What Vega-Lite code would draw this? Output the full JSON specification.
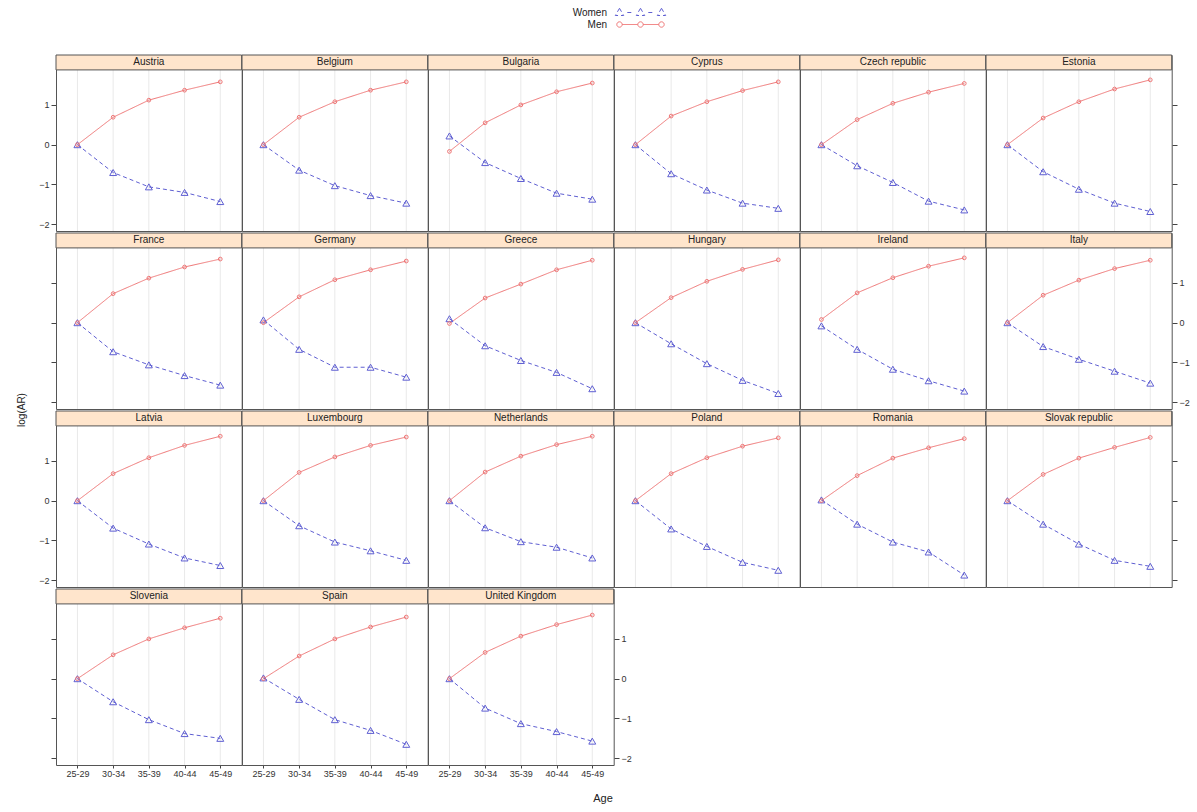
{
"$schema": "https://vega.github.io/schema/vega-lite/v6.json",
"padding": {"left": 16, "top": 6, "right": 5, "bottom": 5},
"background": "white",
"title": {"text": "Age", "orient": "bottom", "anchor": "middle", "fontSize": 11, "fontWeight": "normal", "color": "#222", "offset": 15, "font": "Liberation Sans"},
"data": {"values": [
{"country":"Austria","sex":"Men","age":"25-29","value":0},{"country":"Austria","sex":"Men","age":"30-34","value":0.69},{"country":"Austria","sex":"Men","age":"35-39","value":1.12},{"country":"Austria","sex":"Men","age":"40-44","value":1.37},{"country":"Austria","sex":"Men","age":"45-49","value":1.58},
{"country":"Austria","sex":"Women","age":"25-29","value":0},{"country":"Austria","sex":"Women","age":"30-34","value":-0.70},{"country":"Austria","sex":"Women","age":"35-39","value":-1.06},{"country":"Austria","sex":"Women","age":"40-44","value":-1.20},{"country":"Austria","sex":"Women","age":"45-49","value":-1.43},
{"country":"Belgium","sex":"Men","age":"25-29","value":0},{"country":"Belgium","sex":"Men","age":"30-34","value":0.69},{"country":"Belgium","sex":"Men","age":"35-39","value":1.08},{"country":"Belgium","sex":"Men","age":"40-44","value":1.37},{"country":"Belgium","sex":"Men","age":"45-49","value":1.58},
{"country":"Belgium","sex":"Women","age":"25-29","value":0},{"country":"Belgium","sex":"Women","age":"30-34","value":-0.64},{"country":"Belgium","sex":"Women","age":"35-39","value":-1.03},{"country":"Belgium","sex":"Women","age":"40-44","value":-1.28},{"country":"Belgium","sex":"Women","age":"45-49","value":-1.47},
{"country":"Bulgaria","sex":"Men","age":"25-29","value":-0.17},{"country":"Bulgaria","sex":"Men","age":"30-34","value":0.55},{"country":"Bulgaria","sex":"Men","age":"35-39","value":1.0},{"country":"Bulgaria","sex":"Men","age":"40-44","value":1.33},{"country":"Bulgaria","sex":"Men","age":"45-49","value":1.55},
{"country":"Bulgaria","sex":"Women","age":"25-29","value":0.22},{"country":"Bulgaria","sex":"Women","age":"30-34","value":-0.45},{"country":"Bulgaria","sex":"Women","age":"35-39","value":-0.85},{"country":"Bulgaria","sex":"Women","age":"40-44","value":-1.22},{"country":"Bulgaria","sex":"Women","age":"45-49","value":-1.37},
{"country":"Cyprus","sex":"Men","age":"25-29","value":0},{"country":"Cyprus","sex":"Men","age":"30-34","value":0.72},{"country":"Cyprus","sex":"Men","age":"35-39","value":1.08},{"country":"Cyprus","sex":"Men","age":"40-44","value":1.36},{"country":"Cyprus","sex":"Men","age":"45-49","value":1.58},
{"country":"Cyprus","sex":"Women","age":"25-29","value":0},{"country":"Cyprus","sex":"Women","age":"30-34","value":-0.73},{"country":"Cyprus","sex":"Women","age":"35-39","value":-1.14},{"country":"Cyprus","sex":"Women","age":"40-44","value":-1.47},{"country":"Cyprus","sex":"Women","age":"45-49","value":-1.60},
{"country":"Czech republic","sex":"Men","age":"25-29","value":0},{"country":"Czech republic","sex":"Men","age":"30-34","value":0.63},{"country":"Czech republic","sex":"Men","age":"35-39","value":1.04},{"country":"Czech republic","sex":"Men","age":"40-44","value":1.32},{"country":"Czech republic","sex":"Men","age":"45-49","value":1.54},
{"country":"Czech republic","sex":"Women","age":"25-29","value":0},{"country":"Czech republic","sex":"Women","age":"30-34","value":-0.53},{"country":"Czech republic","sex":"Women","age":"35-39","value":-0.95},{"country":"Czech republic","sex":"Women","age":"40-44","value":-1.42},{"country":"Czech republic","sex":"Women","age":"45-49","value":-1.64},
{"country":"Estonia","sex":"Men","age":"25-29","value":0},{"country":"Estonia","sex":"Men","age":"30-34","value":0.67},{"country":"Estonia","sex":"Men","age":"35-39","value":1.08},{"country":"Estonia","sex":"Men","age":"40-44","value":1.40},{"country":"Estonia","sex":"Men","age":"45-49","value":1.63},
{"country":"Estonia","sex":"Women","age":"25-29","value":0},{"country":"Estonia","sex":"Women","age":"30-34","value":-0.68},{"country":"Estonia","sex":"Women","age":"35-39","value":-1.12},{"country":"Estonia","sex":"Women","age":"40-44","value":-1.47},{"country":"Estonia","sex":"Women","age":"45-49","value":-1.68},
{"country":"France","sex":"Men","age":"25-29","value":0},{"country":"France","sex":"Men","age":"30-34","value":0.73},{"country":"France","sex":"Men","age":"35-39","value":1.12},{"country":"France","sex":"Men","age":"40-44","value":1.40},{"country":"France","sex":"Men","age":"45-49","value":1.60},
{"country":"France","sex":"Women","age":"25-29","value":0},{"country":"France","sex":"Women","age":"30-34","value":-0.73},{"country":"France","sex":"Women","age":"35-39","value":-1.06},{"country":"France","sex":"Women","age":"40-44","value":-1.33},{"country":"France","sex":"Women","age":"45-49","value":-1.57},
{"country":"Germany","sex":"Men","age":"25-29","value":0},{"country":"Germany","sex":"Men","age":"30-34","value":0.65},{"country":"Germany","sex":"Men","age":"35-39","value":1.08},{"country":"Germany","sex":"Men","age":"40-44","value":1.33},{"country":"Germany","sex":"Men","age":"45-49","value":1.55},
{"country":"Germany","sex":"Women","age":"25-29","value":0.07},{"country":"Germany","sex":"Women","age":"30-34","value":-0.67},{"country":"Germany","sex":"Women","age":"35-39","value":-1.12},{"country":"Germany","sex":"Women","age":"40-44","value":-1.12},{"country":"Germany","sex":"Women","age":"45-49","value":-1.37},
{"country":"Greece","sex":"Men","age":"25-29","value":-0.02},{"country":"Greece","sex":"Men","age":"30-34","value":0.62},{"country":"Greece","sex":"Men","age":"35-39","value":0.97},{"country":"Greece","sex":"Men","age":"40-44","value":1.33},{"country":"Greece","sex":"Men","age":"45-49","value":1.57},
{"country":"Greece","sex":"Women","age":"25-29","value":0.10},{"country":"Greece","sex":"Women","age":"30-34","value":-0.58},{"country":"Greece","sex":"Women","age":"35-39","value":-0.95},{"country":"Greece","sex":"Women","age":"40-44","value":-1.25},{"country":"Greece","sex":"Women","age":"45-49","value":-1.66},
{"country":"Hungary","sex":"Men","age":"25-29","value":0},{"country":"Hungary","sex":"Men","age":"30-34","value":0.63},{"country":"Hungary","sex":"Men","age":"35-39","value":1.04},{"country":"Hungary","sex":"Men","age":"40-44","value":1.34},{"country":"Hungary","sex":"Men","age":"45-49","value":1.58},
{"country":"Hungary","sex":"Women","age":"25-29","value":0},{"country":"Hungary","sex":"Women","age":"30-34","value":-0.53},{"country":"Hungary","sex":"Women","age":"35-39","value":-1.03},{"country":"Hungary","sex":"Women","age":"40-44","value":-1.45},{"country":"Hungary","sex":"Women","age":"45-49","value":-1.78},
{"country":"Ireland","sex":"Men","age":"25-29","value":0.08},{"country":"Ireland","sex":"Men","age":"30-34","value":0.75},{"country":"Ireland","sex":"Men","age":"35-39","value":1.13},{"country":"Ireland","sex":"Men","age":"40-44","value":1.42},{"country":"Ireland","sex":"Men","age":"45-49","value":1.63},
{"country":"Ireland","sex":"Women","age":"25-29","value":-0.08},{"country":"Ireland","sex":"Women","age":"30-34","value":-0.67},{"country":"Ireland","sex":"Women","age":"35-39","value":-1.17},{"country":"Ireland","sex":"Women","age":"40-44","value":-1.46},{"country":"Ireland","sex":"Women","age":"45-49","value":-1.72},
{"country":"Italy","sex":"Men","age":"25-29","value":0},{"country":"Italy","sex":"Men","age":"30-34","value":0.69},{"country":"Italy","sex":"Men","age":"35-39","value":1.07},{"country":"Italy","sex":"Men","age":"40-44","value":1.36},{"country":"Italy","sex":"Men","age":"45-49","value":1.57},
{"country":"Italy","sex":"Women","age":"25-29","value":0},{"country":"Italy","sex":"Women","age":"30-34","value":-0.60},{"country":"Italy","sex":"Women","age":"35-39","value":-0.92},{"country":"Italy","sex":"Women","age":"40-44","value":-1.22},{"country":"Italy","sex":"Women","age":"45-49","value":-1.52},
{"country":"Latvia","sex":"Men","age":"25-29","value":0},{"country":"Latvia","sex":"Men","age":"30-34","value":0.68},{"country":"Latvia","sex":"Men","age":"35-39","value":1.08},{"country":"Latvia","sex":"Men","age":"40-44","value":1.39},{"country":"Latvia","sex":"Men","age":"45-49","value":1.62},
{"country":"Latvia","sex":"Women","age":"25-29","value":0},{"country":"Latvia","sex":"Women","age":"30-34","value":-0.69},{"country":"Latvia","sex":"Women","age":"35-39","value":-1.09},{"country":"Latvia","sex":"Women","age":"40-44","value":-1.44},{"country":"Latvia","sex":"Women","age":"45-49","value":-1.63},
{"country":"Luxembourg","sex":"Men","age":"25-29","value":0},{"country":"Luxembourg","sex":"Men","age":"30-34","value":0.71},{"country":"Luxembourg","sex":"Men","age":"35-39","value":1.10},{"country":"Luxembourg","sex":"Men","age":"40-44","value":1.39},{"country":"Luxembourg","sex":"Men","age":"45-49","value":1.60},
{"country":"Luxembourg","sex":"Women","age":"25-29","value":0},{"country":"Luxembourg","sex":"Women","age":"30-34","value":-0.63},{"country":"Luxembourg","sex":"Women","age":"35-39","value":-1.04},{"country":"Luxembourg","sex":"Women","age":"40-44","value":-1.26},{"country":"Luxembourg","sex":"Women","age":"45-49","value":-1.50},
{"country":"Netherlands","sex":"Men","age":"25-29","value":0},{"country":"Netherlands","sex":"Men","age":"30-34","value":0.72},{"country":"Netherlands","sex":"Men","age":"35-39","value":1.12},{"country":"Netherlands","sex":"Men","age":"40-44","value":1.41},{"country":"Netherlands","sex":"Men","age":"45-49","value":1.62},
{"country":"Netherlands","sex":"Women","age":"25-29","value":0},{"country":"Netherlands","sex":"Women","age":"30-34","value":-0.68},{"country":"Netherlands","sex":"Women","age":"35-39","value":-1.03},{"country":"Netherlands","sex":"Women","age":"40-44","value":-1.17},{"country":"Netherlands","sex":"Women","age":"45-49","value":-1.44},
{"country":"Poland","sex":"Men","age":"25-29","value":0},{"country":"Poland","sex":"Men","age":"30-34","value":0.68},{"country":"Poland","sex":"Men","age":"35-39","value":1.08},{"country":"Poland","sex":"Men","age":"40-44","value":1.37},{"country":"Poland","sex":"Men","age":"45-49","value":1.58},
{"country":"Poland","sex":"Women","age":"25-29","value":0},{"country":"Poland","sex":"Women","age":"30-34","value":-0.71},{"country":"Poland","sex":"Women","age":"35-39","value":-1.15},{"country":"Poland","sex":"Women","age":"40-44","value":-1.55},{"country":"Poland","sex":"Women","age":"45-49","value":-1.75},
{"country":"Romania","sex":"Men","age":"25-29","value":0},{"country":"Romania","sex":"Men","age":"30-34","value":0.63},{"country":"Romania","sex":"Men","age":"35-39","value":1.07},{"country":"Romania","sex":"Men","age":"40-44","value":1.33},{"country":"Romania","sex":"Men","age":"45-49","value":1.56},
{"country":"Romania","sex":"Women","age":"25-29","value":0.02},{"country":"Romania","sex":"Women","age":"30-34","value":-0.59},{"country":"Romania","sex":"Women","age":"35-39","value":-1.04},{"country":"Romania","sex":"Women","age":"40-44","value":-1.29},{"country":"Romania","sex":"Women","age":"45-49","value":-1.87},
{"country":"Slovak republic","sex":"Men","age":"25-29","value":0},{"country":"Slovak republic","sex":"Men","age":"30-34","value":0.66},{"country":"Slovak republic","sex":"Men","age":"35-39","value":1.07},{"country":"Slovak republic","sex":"Men","age":"40-44","value":1.34},{"country":"Slovak republic","sex":"Men","age":"45-49","value":1.59},
{"country":"Slovak republic","sex":"Women","age":"25-29","value":0},{"country":"Slovak republic","sex":"Women","age":"30-34","value":-0.59},{"country":"Slovak republic","sex":"Women","age":"35-39","value":-1.09},{"country":"Slovak republic","sex":"Women","age":"40-44","value":-1.50},{"country":"Slovak republic","sex":"Women","age":"45-49","value":-1.65},
{"country":"Slovenia","sex":"Men","age":"25-29","value":0},{"country":"Slovenia","sex":"Men","age":"30-34","value":0.60},{"country":"Slovenia","sex":"Men","age":"35-39","value":1.00},{"country":"Slovenia","sex":"Men","age":"40-44","value":1.28},{"country":"Slovenia","sex":"Men","age":"45-49","value":1.52},
{"country":"Slovenia","sex":"Women","age":"25-29","value":0},{"country":"Slovenia","sex":"Women","age":"30-34","value":-0.58},{"country":"Slovenia","sex":"Women","age":"35-39","value":-1.03},{"country":"Slovenia","sex":"Women","age":"40-44","value":-1.38},{"country":"Slovenia","sex":"Women","age":"45-49","value":-1.50},
{"country":"Spain","sex":"Men","age":"25-29","value":0},{"country":"Spain","sex":"Men","age":"30-34","value":0.57},{"country":"Spain","sex":"Men","age":"35-39","value":1.00},{"country":"Spain","sex":"Men","age":"40-44","value":1.30},{"country":"Spain","sex":"Men","age":"45-49","value":1.55},
{"country":"Spain","sex":"Women","age":"25-29","value":0.02},{"country":"Spain","sex":"Women","age":"30-34","value":-0.52},{"country":"Spain","sex":"Women","age":"35-39","value":-1.03},{"country":"Spain","sex":"Women","age":"40-44","value":-1.30},{"country":"Spain","sex":"Women","age":"45-49","value":-1.65},
{"country":"United Kingdom","sex":"Men","age":"25-29","value":0},{"country":"United Kingdom","sex":"Men","age":"30-34","value":0.66},{"country":"United Kingdom","sex":"Men","age":"35-39","value":1.07},{"country":"United Kingdom","sex":"Men","age":"40-44","value":1.36},{"country":"United Kingdom","sex":"Men","age":"45-49","value":1.60},
{"country":"United Kingdom","sex":"Women","age":"25-29","value":0},{"country":"United Kingdom","sex":"Women","age":"30-34","value":-0.74},{"country":"United Kingdom","sex":"Women","age":"35-39","value":-1.13},{"country":"United Kingdom","sex":"Women","age":"40-44","value":-1.33},{"country":"United Kingdom","sex":"Women","age":"45-49","value":-1.57}
]},
"spacing": 0,
"vconcat": [
{"title": {"text": "log(AR)", "orient": "left", "anchor": "middle", "fontSize": 10, "fontWeight": "normal", "color": "transparent", "offset": 12, "font": "Liberation Sans"},
 "spacing": 0,
 "vconcat": [
{
 "transform": [{"filter": {"field": "country", "oneOf": ["Austria","Belgium","Bulgaria","Cyprus","Czech republic","Estonia"]}}],
 "facet": {"column": {"field": "country", "type": "nominal", "sort": ["Austria","Belgium","Bulgaria","Cyprus","Czech republic","Estonia"], "header": {"title": null, "labels": false}}},
 "spacing": 0, "bounds": "flush",
 "spec": {
  "width": 185.7, "height": 176,
  "resolve": {"axis": {"y": "independent"}},
  "layer": [
   {"transform": [{"filter": "datum.sex === 'Men'"}],
    "mark": {"type": "rule", "color": "#e9e9e9", "strokeWidth": 1},
    "encoding": {"x": {"field": "age", "type": "ordinal", "scale": {"type": "point", "padding": 0.6, "domain": ["25-29","30-34","35-39","40-44","45-49"]}, "axis": null}}},
   {"transform": [{"filter": "datum.sex === 'Men' && datum.age === '25-29'"}],
    "mark": {"type": "rect", "fill": "#ffe5cc", "stroke": "#555", "strokeWidth": 1},
    "encoding": {"x": {"value": 0}, "x2": {"value": "width"},
      "y": {"datum": 1.88, "type": "quantitative", "scale": {"domain": [-2.17, 2.255], "nice": false, "zero": false}, "axis": null}, "y2": {"datum": 2.255}}},
   {"transform": [{"filter": "datum.sex === 'Men' && datum.age === '25-29'"}],
    "mark": {"type": "text", "fontSize": 10, "color": "#222", "baseline": "middle", "align": "center"},
    "encoding": {"x": {"datum": "35-39", "type": "ordinal", "scale": {"type": "point", "padding": 0.6, "domain": ["25-29","30-34","35-39","40-44","45-49"]}, "axis": null},
      "y": {"datum": 2.07, "type": "quantitative", "scale": {"domain": [-2.17, 2.255], "nice": false, "zero": false}, "axis": null},
      "text": {"field": "country"}}},
   {"mark": {"type": "line", "strokeWidth": 1},
    "encoding": {"x": {"field": "age", "type": "ordinal", "scale": {"type": "point", "padding": 0.6, "domain": ["25-29","30-34","35-39","40-44","45-49"]}, "axis": null},
      "y": {"field": "value", "type": "quantitative", "scale": {"domain": [-2.17, 2.255], "nice": false, "zero": false}, "axis": {"orient": "left", "values": [-2,-1,0,1], "title": null}},
      "color": {"field": "sex", "type": "nominal", "scale": {"domain": ["Women","Men"], "range": ["#5f5fd2", "#ef7676"]},
        "legend": {"orient": "none", "legendX": 578, "legendY": -49, "direction": "vertical", "title": null, "labelFontSize": 10, "labelColor": "#222", "labelAlign": "right", "labelOffset": -40, "symbolSize": 144, "rowPadding": 0,
          "encode": {"symbols": {"update": {"size": {"value": 144}, "shape": {"signal": "datum.value === 'Women' ? 'M-3.5,-0.7L-2.8,0.5L-4.2,0.5ZM0,-0.7L0.7,0.5L-0.7,0.5ZM3.5,-0.7L4.2,0.5L2.8,0.5ZM-2.2,0L-1.3,0M1.3,0L2.2,0' : 'M-3.95,0A0.45,0.45,0,1,0,-3.05,0A0.45,0.45,0,1,0,-3.95,0ZM-0.45,0A0.45,0.45,0,1,0,0.45,0A0.45,0.45,0,1,0,-0.45,0ZM3.05,0A0.45,0.45,0,1,0,3.95,0A0.45,0.45,0,1,0,3.05,0ZM-3.05,0L-0.45,0M0.45,0L3.05,0'"}, "fill": {"value": "transparent"}, "strokeWidth": {"value": 1}, "strokeDash": {"value": []}}}}}},
      "strokeDash": {"field": "sex", "type": "nominal", "scale": {"domain": ["Women","Men"], "range": [[4,3],[1,0]]}, "legend": null}}},
   {"transform": [{"filter": "datum.sex === 'Women'"}],
    "mark": {"type": "point", "shape": "triangle-up", "size": 48, "filled": false, "strokeWidth": 1, "opacity": 1},
    "encoding": {"x": {"field": "age", "type": "ordinal", "scale": {"type": "point", "padding": 0.6, "domain": ["25-29","30-34","35-39","40-44","45-49"]}, "axis": null},
      "y": {"field": "value", "type": "quantitative", "scale": {"domain": [-2.17, 2.255], "nice": false, "zero": false}, "axis": {"orient": "right", "values": [-2,-1,0,1], "title": null, "labelColor": "transparent"}},
      "color": {"field": "sex", "type": "nominal", "scale": {"domain": ["Women","Men"], "range": ["#5f5fd2", "#ef7676"]}, "legend": null}}},
   {"transform": [{"filter": "datum.sex === 'Men'"}],
    "mark": {"type": "point", "shape": "circle", "size": 14, "filled": false, "strokeWidth": 1, "opacity": 1},
    "encoding": {"x": {"field": "age", "type": "ordinal", "scale": {"type": "point", "padding": 0.6, "domain": ["25-29","30-34","35-39","40-44","45-49"]}, "axis": null},
      "y": {"field": "value", "type": "quantitative", "scale": {"domain": [-2.17, 2.255], "nice": false, "zero": false}, "axis": null},
      "color": {"field": "sex", "type": "nominal", "scale": {"domain": ["Women","Men"], "range": ["#5f5fd2", "#ef7676"]}, "legend": null}}}
  ]
 }
}
 ]},
{"title": {"text": "log(AR)", "orient": "left", "anchor": "middle", "fontSize": 10, "fontWeight": "normal", "color": "#222", "offset": 12, "font": "Liberation Sans"},
 "spacing": 0,
 "vconcat": [
{
 "transform": [{"filter": {"field": "country", "oneOf": ["France","Germany","Greece","Hungary","Ireland","Italy"]}}],
 "facet": {"column": {"field": "country", "type": "nominal", "sort": ["France","Germany","Greece","Hungary","Ireland","Italy"], "header": {"title": null, "labels": false}}},
 "spacing": 0, "bounds": "flush",
 "spec": {
  "width": 185.7, "height": 176,
  "resolve": {"axis": {"y": "independent"}},
  "layer": [
   {"transform": [{"filter": "datum.sex === 'Men'"}],
    "mark": {"type": "rule", "color": "#e9e9e9", "strokeWidth": 1},
    "encoding": {"x": {"field": "age", "type": "ordinal", "scale": {"type": "point", "padding": 0.6, "domain": ["25-29","30-34","35-39","40-44","45-49"]}, "axis": null}}},
   {"transform": [{"filter": "datum.sex === 'Men' && datum.age === '25-29'"}],
    "mark": {"type": "rect", "fill": "#ffe5cc", "stroke": "#555", "strokeWidth": 1},
    "encoding": {"x": {"value": 0}, "x2": {"value": "width"},
      "y": {"datum": 1.88, "type": "quantitative", "scale": {"domain": [-2.17, 2.255], "nice": false, "zero": false}, "axis": null}, "y2": {"datum": 2.255}}},
   {"transform": [{"filter": "datum.sex === 'Men' && datum.age === '25-29'"}],
    "mark": {"type": "text", "fontSize": 10, "color": "#222", "baseline": "middle", "align": "center"},
    "encoding": {"x": {"datum": "35-39", "type": "ordinal", "scale": {"type": "point", "padding": 0.6, "domain": ["25-29","30-34","35-39","40-44","45-49"]}, "axis": null},
      "y": {"datum": 2.07, "type": "quantitative", "scale": {"domain": [-2.17, 2.255], "nice": false, "zero": false}, "axis": null},
      "text": {"field": "country"}}},
   {"mark": {"type": "line", "strokeWidth": 1},
    "encoding": {"x": {"field": "age", "type": "ordinal", "scale": {"type": "point", "padding": 0.6, "domain": ["25-29","30-34","35-39","40-44","45-49"]}, "axis": null},
      "y": {"field": "value", "type": "quantitative", "scale": {"domain": [-2.17, 2.255], "nice": false, "zero": false}, "axis": {"orient": "left", "values": [-2,-1,0,1], "title": null, "labelColor": "transparent"}},
      "color": {"field": "sex", "type": "nominal", "scale": {"domain": ["Women","Men"], "range": ["#5f5fd2", "#ef7676"]}, "legend": null},
      "strokeDash": {"field": "sex", "type": "nominal", "scale": {"domain": ["Women","Men"], "range": [[4,3],[1,0]]}, "legend": null}}},
   {"transform": [{"filter": "datum.sex === 'Women'"}],
    "mark": {"type": "point", "shape": "triangle-up", "size": 48, "filled": false, "strokeWidth": 1, "opacity": 1},
    "encoding": {"x": {"field": "age", "type": "ordinal", "scale": {"type": "point", "padding": 0.6, "domain": ["25-29","30-34","35-39","40-44","45-49"]}, "axis": null},
      "y": {"field": "value", "type": "quantitative", "scale": {"domain": [-2.17, 2.255], "nice": false, "zero": false}, "axis": {"orient": "right", "values": [-2,-1,0,1], "title": null}},
      "color": {"field": "sex", "type": "nominal", "scale": {"domain": ["Women","Men"], "range": ["#5f5fd2", "#ef7676"]}, "legend": null}}},
   {"transform": [{"filter": "datum.sex === 'Men'"}],
    "mark": {"type": "point", "shape": "circle", "size": 14, "filled": false, "strokeWidth": 1, "opacity": 1},
    "encoding": {"x": {"field": "age", "type": "ordinal", "scale": {"type": "point", "padding": 0.6, "domain": ["25-29","30-34","35-39","40-44","45-49"]}, "axis": null},
      "y": {"field": "value", "type": "quantitative", "scale": {"domain": [-2.17, 2.255], "nice": false, "zero": false}, "axis": null},
      "color": {"field": "sex", "type": "nominal", "scale": {"domain": ["Women","Men"], "range": ["#5f5fd2", "#ef7676"]}, "legend": null}}}
  ]
 }
},
{
 "transform": [{"filter": {"field": "country", "oneOf": ["Latvia","Luxembourg","Netherlands","Poland","Romania","Slovak republic"]}}],
 "facet": {"column": {"field": "country", "type": "nominal", "sort": ["Latvia","Luxembourg","Netherlands","Poland","Romania","Slovak republic"], "header": {"title": null, "labels": false}}},
 "spacing": 0, "bounds": "flush",
 "spec": {
  "width": 185.7, "height": 176,
  "resolve": {"axis": {"y": "independent"}},
  "layer": [
   {"transform": [{"filter": "datum.sex === 'Men'"}],
    "mark": {"type": "rule", "color": "#e9e9e9", "strokeWidth": 1},
    "encoding": {"x": {"field": "age", "type": "ordinal", "scale": {"type": "point", "padding": 0.6, "domain": ["25-29","30-34","35-39","40-44","45-49"]}, "axis": null}}},
   {"transform": [{"filter": "datum.sex === 'Men' && datum.age === '25-29'"}],
    "mark": {"type": "rect", "fill": "#ffe5cc", "stroke": "#555", "strokeWidth": 1},
    "encoding": {"x": {"value": 0}, "x2": {"value": "width"},
      "y": {"datum": 1.88, "type": "quantitative", "scale": {"domain": [-2.17, 2.255], "nice": false, "zero": false}, "axis": null}, "y2": {"datum": 2.255}}},
   {"transform": [{"filter": "datum.sex === 'Men' && datum.age === '25-29'"}],
    "mark": {"type": "text", "fontSize": 10, "color": "#222", "baseline": "middle", "align": "center"},
    "encoding": {"x": {"datum": "35-39", "type": "ordinal", "scale": {"type": "point", "padding": 0.6, "domain": ["25-29","30-34","35-39","40-44","45-49"]}, "axis": null},
      "y": {"datum": 2.07, "type": "quantitative", "scale": {"domain": [-2.17, 2.255], "nice": false, "zero": false}, "axis": null},
      "text": {"field": "country"}}},
   {"mark": {"type": "line", "strokeWidth": 1},
    "encoding": {"x": {"field": "age", "type": "ordinal", "scale": {"type": "point", "padding": 0.6, "domain": ["25-29","30-34","35-39","40-44","45-49"]}, "axis": null},
      "y": {"field": "value", "type": "quantitative", "scale": {"domain": [-2.17, 2.255], "nice": false, "zero": false}, "axis": {"orient": "left", "values": [-2,-1,0,1], "title": null}},
      "color": {"field": "sex", "type": "nominal", "scale": {"domain": ["Women","Men"], "range": ["#5f5fd2", "#ef7676"]}, "legend": null},
      "strokeDash": {"field": "sex", "type": "nominal", "scale": {"domain": ["Women","Men"], "range": [[4,3],[1,0]]}, "legend": null}}},
   {"transform": [{"filter": "datum.sex === 'Women'"}],
    "mark": {"type": "point", "shape": "triangle-up", "size": 48, "filled": false, "strokeWidth": 1, "opacity": 1},
    "encoding": {"x": {"field": "age", "type": "ordinal", "scale": {"type": "point", "padding": 0.6, "domain": ["25-29","30-34","35-39","40-44","45-49"]}, "axis": null},
      "y": {"field": "value", "type": "quantitative", "scale": {"domain": [-2.17, 2.255], "nice": false, "zero": false}, "axis": {"orient": "right", "values": [-2,-1,0,1], "title": null, "labelColor": "transparent"}},
      "color": {"field": "sex", "type": "nominal", "scale": {"domain": ["Women","Men"], "range": ["#5f5fd2", "#ef7676"]}, "legend": null}}},
   {"transform": [{"filter": "datum.sex === 'Men'"}],
    "mark": {"type": "point", "shape": "circle", "size": 14, "filled": false, "strokeWidth": 1, "opacity": 1},
    "encoding": {"x": {"field": "age", "type": "ordinal", "scale": {"type": "point", "padding": 0.6, "domain": ["25-29","30-34","35-39","40-44","45-49"]}, "axis": null},
      "y": {"field": "value", "type": "quantitative", "scale": {"domain": [-2.17, 2.255], "nice": false, "zero": false}, "axis": null},
      "color": {"field": "sex", "type": "nominal", "scale": {"domain": ["Women","Men"], "range": ["#5f5fd2", "#ef7676"]}, "legend": null}}}
  ]
 }
}
 ]},
{"title": {"text": "log(AR)", "orient": "left", "anchor": "middle", "fontSize": 10, "fontWeight": "normal", "color": "transparent", "offset": 12, "font": "Liberation Sans"},
 "spacing": 0,
 "vconcat": [
{
 "transform": [{"filter": {"field": "country", "oneOf": ["Slovenia","Spain","United Kingdom"]}}],
 "facet": {"column": {"field": "country", "type": "nominal", "sort": ["Slovenia","Spain","United Kingdom"], "header": {"title": null, "labels": false}}},
 "spacing": 0, "bounds": "flush",
 "spec": {
  "width": 185.7, "height": 176,
  "resolve": {"axis": {"y": "independent"}},
  "layer": [
   {"transform": [{"filter": "datum.sex === 'Men'"}],
    "mark": {"type": "rule", "color": "#e9e9e9", "strokeWidth": 1},
    "encoding": {"x": {"field": "age", "type": "ordinal", "scale": {"type": "point", "padding": 0.6, "domain": ["25-29","30-34","35-39","40-44","45-49"]}, "axis": {"labels": true, "ticks": true, "tickSize": 3, "labelPadding": 1, "title": null, "grid": false, "labelAngle": 0}}}},
   {"transform": [{"filter": "datum.sex === 'Men' && datum.age === '25-29'"}],
    "mark": {"type": "rect", "fill": "#ffe5cc", "stroke": "#555", "strokeWidth": 1},
    "encoding": {"x": {"value": 0}, "x2": {"value": "width"},
      "y": {"datum": 1.88, "type": "quantitative", "scale": {"domain": [-2.17, 2.255], "nice": false, "zero": false}, "axis": null}, "y2": {"datum": 2.255}}},
   {"transform": [{"filter": "datum.sex === 'Men' && datum.age === '25-29'"}],
    "mark": {"type": "text", "fontSize": 10, "color": "#222", "baseline": "middle", "align": "center"},
    "encoding": {"x": {"datum": "35-39", "type": "ordinal", "scale": {"type": "point", "padding": 0.6, "domain": ["25-29","30-34","35-39","40-44","45-49"]}},
      "y": {"datum": 2.07, "type": "quantitative", "scale": {"domain": [-2.17, 2.255], "nice": false, "zero": false}, "axis": null},
      "text": {"field": "country"}}},
   {"mark": {"type": "line", "strokeWidth": 1},
    "encoding": {"x": {"field": "age", "type": "ordinal", "scale": {"type": "point", "padding": 0.6, "domain": ["25-29","30-34","35-39","40-44","45-49"]}},
      "y": {"field": "value", "type": "quantitative", "scale": {"domain": [-2.17, 2.255], "nice": false, "zero": false}, "axis": {"orient": "left", "values": [-2,-1,0,1], "title": null, "labelColor": "transparent"}},
      "color": {"field": "sex", "type": "nominal", "scale": {"domain": ["Women","Men"], "range": ["#5f5fd2", "#ef7676"]}, "legend": null},
      "strokeDash": {"field": "sex", "type": "nominal", "scale": {"domain": ["Women","Men"], "range": [[4,3],[1,0]]}, "legend": null}}},
   {"transform": [{"filter": "datum.sex === 'Women'"}],
    "mark": {"type": "point", "shape": "triangle-up", "size": 48, "filled": false, "strokeWidth": 1, "opacity": 1},
    "encoding": {"x": {"field": "age", "type": "ordinal", "scale": {"type": "point", "padding": 0.6, "domain": ["25-29","30-34","35-39","40-44","45-49"]}},
      "y": {"field": "value", "type": "quantitative", "scale": {"domain": [-2.17, 2.255], "nice": false, "zero": false}, "axis": {"orient": "right", "values": [-2,-1,0,1], "title": null}},
      "color": {"field": "sex", "type": "nominal", "scale": {"domain": ["Women","Men"], "range": ["#5f5fd2", "#ef7676"]}, "legend": null}}},
   {"transform": [{"filter": "datum.sex === 'Men'"}],
    "mark": {"type": "point", "shape": "circle", "size": 14, "filled": false, "strokeWidth": 1, "opacity": 1},
    "encoding": {"x": {"field": "age", "type": "ordinal", "scale": {"type": "point", "padding": 0.6, "domain": ["25-29","30-34","35-39","40-44","45-49"]}},
      "y": {"field": "value", "type": "quantitative", "scale": {"domain": [-2.17, 2.255], "nice": false, "zero": false}, "axis": null},
      "color": {"field": "sex", "type": "nominal", "scale": {"domain": ["Women","Men"], "range": ["#5f5fd2", "#ef7676"]}, "legend": null}}}
  ]
 }
}
 ]}
],
"config": {
 "font": "Liberation Sans",
 "view": {"stroke": "#555", "strokeWidth": 1},
 "axis": {"labelFontSize": 9, "labelColor": "#333", "labelFont": "Liberation Sans", "tickColor": "#444", "tickSize": 5, "domain": false, "titleFontSize": 10, "titleFontWeight": "normal", "titleColor": "#222", "titleFont": "Liberation Sans", "labelPadding": 2, "grid": false},
 "legend": {"labelFont": "Liberation Sans"}
}
}
